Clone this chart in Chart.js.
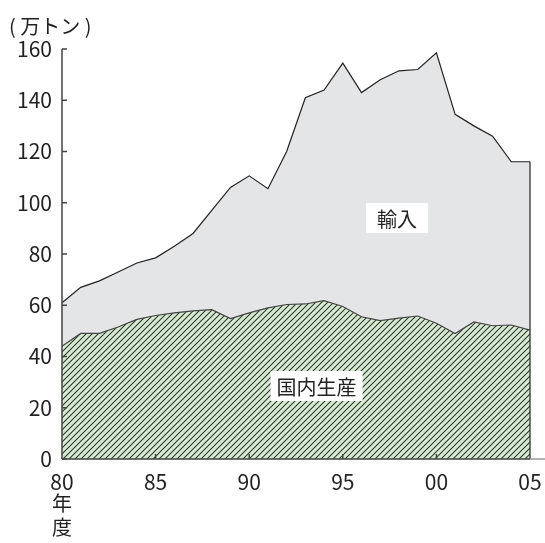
<!DOCTYPE html>
<html lang="ja">
<head>
<meta charset="UTF-8">
<title>国内生産と輸入</title>
<script src="https://cdn.jsdelivr.net/npm/chart.js@4"></script>
<style>
  body { margin: 0; background: #fff; }
  #wrap { width: 545px; height: 543px; position: relative; }
</style>
</head>
<body>
<div id="wrap"><canvas id="chart"></canvas></div>
<script>
// 年度 (1980 - 2005)
const years = [1980, 1981, 1982, 1983, 1984, 1985, 1986, 1987, 1988, 1989, 1990, 1991, 1992,
  1993, 1994, 1995, 1996, 1997, 1998, 1999, 2000, 2001, 2002, 2003, 2004, 2005];
// 国内生産 (万トン)
const domestic = [44, 49, 49, 51.5, 54.5, 56, 57, 57.8, 58.3, 54.8, 57, 59, 60.3,
  60.5, 61.8, 59.5, 55.5, 54, 55, 55.8, 53, 49, 53.5, 52, 52.3, 50.3];
// 合計 = 国内生産 + 輸入 (万トン)
const total = [61, 67, 69.5, 73, 76.5, 78.5, 83, 88, 97, 106, 110.5, 105.5, 120,
  141, 144, 154.5, 143, 148, 151.5, 152, 158.5, 134.5, 130, 126, 116, 116];
const yTicks = [0, 20, 40, 60, 80, 100, 120, 140, 160];

const FONT = '"Noto Sans CJK JP", "Noto Sans", sans-serif';

// 斜線ハッチ
function makeHatch() {
  const c = document.createElement('canvas');
  c.width = 6; c.height = 6;
  const g = c.getContext('2d');
  g.fillStyle = '#d6ebd1';
  g.fillRect(0, 0, 6, 6);
  g.strokeStyle = '#333833';
  g.lineWidth = 1.1;
  g.beginPath();
  g.moveTo(-1, 7); g.lineTo(7, -1);
  g.moveTo(-4, 4); g.lineTo(4, -4);
  g.moveTo(2, 10); g.lineTo(10, 2);
  g.stroke();
  return g.createPattern(c, 'repeat');
}
const hatch = makeHatch();

// 軸・目盛・注記
const decor = {
  id: 'decor',
  afterDatasetsDraw(chart) {
    const ctx = chart.ctx;
    const x = chart.scales.x, y = chart.scales.y;
    const a = chart.chartArea;
    ctx.save();
    // 右端の縦線
    const last = years.length - 1;
    ctx.strokeStyle = '#222';
    ctx.lineWidth = 1.2;
    ctx.beginPath();
    ctx.moveTo(x.getPixelForValue(last), y.getPixelForValue(total[last]));
    ctx.lineTo(x.getPixelForValue(last), a.bottom);
    ctx.stroke();
    // y軸
    ctx.strokeStyle = '#444';
    ctx.lineWidth = 1.5;
    ctx.beginPath();
    ctx.moveTo(a.left, y.getPixelForValue(160));
    ctx.lineTo(a.left, a.bottom);
    yTicks.forEach(v => {
      const py = y.getPixelForValue(v);
      ctx.moveTo(a.left, py);
      ctx.lineTo(a.left + 5, py);
    });
    ctx.stroke();
    // x軸
    ctx.beginPath();
    ctx.moveTo(a.left, a.bottom);
    ctx.lineTo(a.right, a.bottom);
    years.forEach((yr, i) => {
      if (yr % 5 === 0 && i > 0 && i < last) {
        const px = x.getPixelForValue(i);
        ctx.moveTo(px, a.bottom);
        ctx.lineTo(px, a.bottom - 5);
      }
    });
    ctx.stroke();
    ctx.strokeStyle = '#999';
    ctx.beginPath();
    ctx.moveTo(a.right, a.bottom);
    ctx.lineTo(chart.width, a.bottom);
    ctx.stroke();
    // 単位・年度
    ctx.fillStyle = '#222';
    ctx.font = '20px ' + FONT;
    ctx.textBaseline = 'middle';
    ctx.textAlign = 'left';
    ctx.fillText('( 万トン )', 9, 26);
    ctx.textAlign = 'center';
    ctx.fillText('年', a.left, 503);
    ctx.fillText('度', a.left, 527);
    // ラベル
    const labels = [
      { t: '国内生産', i: 13.6, v: 28.5, pad: 6 },
      { t: '輸入', i: 17.9, v: 94, pad: 11 }
    ];
    labels.forEach(l => {
      const cx = x.getPixelForValue(l.i), cy = y.getPixelForValue(l.v);
      ctx.font = '20px ' + FONT;
      const w = ctx.measureText(l.t).width + l.pad * 2;
      ctx.fillStyle = '#fff';
      ctx.fillRect(cx - w / 2, cy - 15, w, 30);
      ctx.fillStyle = '#222';
      ctx.fillText(l.t, cx, cy + 1);
    });
    ctx.restore();
  }
};

new Chart(document.getElementById('chart'), {
  type: 'line',
  data: {
    labels: years,
    datasets: [
      {
        label: '国内生産',
        data: domestic,
        fill: 'origin',
        backgroundColor: hatch,
        borderColor: '#444',
        borderWidth: 1.2,
        pointRadius: 0,
        tension: 0
      },
      {
        label: '輸入',
        data: total,
        fill: '-1',
        backgroundColor: '#e4e5e7',
        borderColor: '#222',
        borderWidth: 1.2,
        pointRadius: 0,
        tension: 0
      }
    ]
  },
  options: {
    responsive: true,
    maintainAspectRatio: false,
    animation: false,
    layout: { padding: { top: 49, right: 15, left: 0, bottom: 0 } },
    plugins: { legend: { display: false }, tooltip: { enabled: false } },
    scales: {
      x: {
        type: 'category',
        offset: false,
        grid: { display: false, drawTicks: false },
        border: { display: false },
        afterFit: s => { s.height = 84; s.paddingLeft = 0; s.paddingRight = 0; },
        ticks: {
          autoSkip: false,
          maxRotation: 0,
          padding: 10,
          color: '#222',
          font: { family: FONT, size: 21 },
          callback: function (val, i) {
            const yr = years[i];
            return yr % 5 === 0 ? String(yr).slice(2) : '';
          }
        }
      },
      y: {
        min: 0,
        max: 160,
        grid: { display: false, drawTicks: false },
        border: { display: false },
        afterFit: s => { s.width = 62; s.paddingTop = 0; s.paddingBottom = 0; },
        afterBuildTicks: s => { s.ticks = yTicks.map(v => ({ value: v })); },
        ticks: {
          padding: 10,
          color: '#222',
          font: { family: FONT, size: 21 }
        }
      }
    }
  },
  plugins: [decor]
});
</script>
</body>
</html>
